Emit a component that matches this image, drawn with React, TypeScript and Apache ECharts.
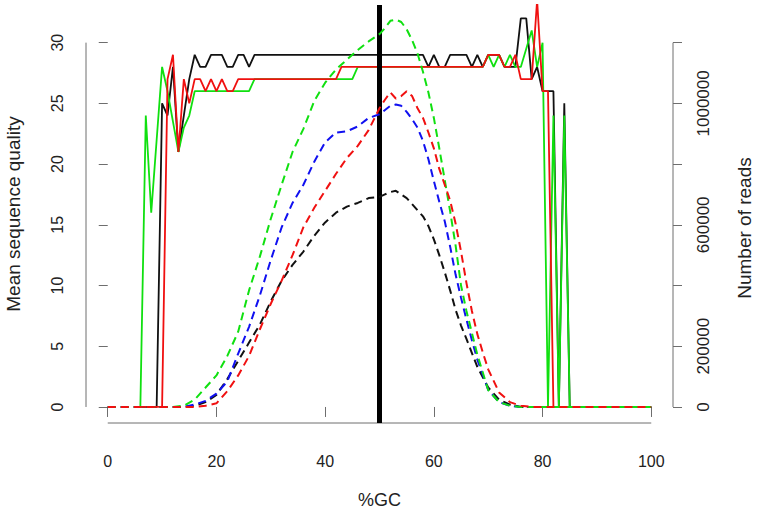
import React, { useEffect, useRef } from "react";
import * as echarts from "echarts";

// ---- data: mean sequence quality (solid lines), [%GC, quality] ----
const qualityBlack: [number, number][] = [
  [5, 0], [9, 0], [10, 25], [11, 24], [12, 28], [13, 21], [14, 24], [15, 27], [16, 29], [17, 28],
  [18, 28], [19, 29], [21, 29], [22, 28], [23, 28], [24, 29], [25, 29], [26, 28], [27, 29], [58, 29],
  [59, 28], [60, 29], [61, 28], [62, 28], [63, 29], [66, 29], [67, 28], [68, 29], [69, 28], [70, 29],
  [72, 29], [73, 28], [75, 28], [76, 32], [77, 32], [78, 27], [79, 28], [80, 26], [82, 26], [83, 0],
  [84, 25], [85, 0], [86, 0],
];
const qualityRed: [number, number][] = [
  [5, 0], [10, 0], [11, 27], [12, 29], [13, 21], [14, 27], [15, 25], [16, 27], [17, 27], [18, 26],
  [19, 27], [20, 26], [21, 27], [22, 26], [23, 26], [24, 27], [42, 27], [43, 28], [69, 28], [70, 29],
  [72, 29], [73, 28], [74, 28], [75, 29], [76, 27], [78, 27], [79, 33.5], [80, 26], [81, 26], [82, 0],
  [86, 0],
];
const qualityGreen: [number, number][] = [
  [5, 0], [6, 0], [7, 24], [8, 16], [9, 22], [10, 28], [11, 26], [12, 23.5], [13, 21], [14, 23],
  [15, 24], [16, 26], [26, 26], [27, 27], [45, 27], [46, 28], [69, 28], [70, 29], [71, 28], [72, 29],
  [73, 28], [74, 29], [75, 28], [76, 28], [77, 29.5], [78, 31], [79, 28], [80, 30], [81, 0], [82, 24],
  [83, 0], [84, 24], [85, 0], [86, 0],
];

// ---- data: number of reads (dashed lines), [%GC, reads] ----
const readsBlack: [number, number][] = [
  [0, 0], [14, 0], [16, 4000], [18, 16000], [20, 40000], [22, 92000], [24, 152000], [26, 212000],
  [28, 272000], [30, 348000], [32, 416000], [34, 468000], [36, 512000], [38, 564000], [40, 608000],
  [42, 640000], [44, 660000], [46, 672000], [48, 688000], [50, 692000], [51, 700000], [52, 708000],
  [53, 712000], [54, 700000], [55, 688000], [56, 668000], [57, 648000], [58, 628000], [59, 596000],
  [60, 552000], [61, 500000], [62, 444000], [63, 384000], [64, 320000], [65, 268000], [66, 224000],
  [68, 132000], [70, 64000], [72, 24000], [74, 8000], [76, 0], [100, 0],
];
const readsBlue: [number, number][] = [
  [0, 0], [14, 0], [16, 8000], [18, 20000], [20, 44000], [22, 84000], [24, 176000], [26, 264000],
  [28, 368000], [30, 484000], [32, 592000], [34, 672000], [36, 732000], [38, 808000], [40, 872000],
  [42, 904000], [44, 908000], [46, 924000], [48, 952000], [50, 964000], [52, 992000], [53, 996000],
  [54, 992000], [55, 972000], [56, 948000], [57, 920000], [58, 876000], [59, 816000], [60, 744000],
  [61, 676000], [62, 612000], [63, 528000], [64, 436000], [65, 360000], [66, 288000], [67, 220000],
  [68, 156000], [70, 56000], [72, 16000], [74, 4000], [76, 0], [100, 0],
];
const readsGreen: [number, number][] = [
  [0, 0], [12, 0], [14, 4000], [16, 24000], [18, 64000], [20, 104000], [22, 168000], [24, 248000],
  [26, 384000], [28, 496000], [30, 620000], [32, 732000], [34, 840000], [36, 916000], [38, 1008000],
  [40, 1068000], [42, 1112000], [44, 1144000], [46, 1176000], [48, 1204000], [50, 1228000],
  [51, 1248000], [52, 1272000], [53, 1276000], [54, 1268000], [55, 1244000], [56, 1208000],
  [57, 1164000], [58, 1104000], [59, 1036000], [60, 952000], [61, 852000], [62, 748000], [63, 644000],
  [64, 532000], [65, 400000], [66, 316000], [68, 172000], [70, 56000], [72, 16000], [74, 4000],
  [76, 0], [100, 0],
];
const readsRed: [number, number][] = [
  [0, 0], [16, 0], [18, 4000], [20, 12000], [22, 52000], [24, 104000], [26, 168000], [28, 256000],
  [30, 340000], [32, 416000], [34, 500000], [36, 592000], [38, 656000], [40, 712000], [42, 768000],
  [44, 820000], [46, 860000], [48, 912000], [49, 948000], [50, 984000], [51, 1012000], [52, 1036000],
  [53, 1016000], [54, 1024000], [55, 1040000], [56, 1024000], [57, 984000], [58, 952000],
  [59, 904000], [60, 852000], [61, 784000], [62, 732000], [63, 680000], [64, 604000], [65, 512000],
  [66, 408000], [67, 316000], [68, 240000], [69, 180000], [70, 124000], [72, 48000], [74, 16000],
  [76, 4000], [78, 0], [100, 0],
];

// ---- axes ----
const xTicks = [0, 20, 40, 60, 80, 100];
const qualityTicks = [0, 5, 10, 15, 20, 25, 30];
const readsTicks = [0, 200000, 400000, 600000, 800000, 1000000, 1200000];
const readsLabels = [0, 200000, 600000, 1000000];
const referenceGC = 50;

const X_MIN = -4;
const X_MAX = 104;
const Q_MIN = -1.32;
const Q_MAX = 33.1;
const READS_PER_Q = 40000;

const FONT = "Liberation Sans, Arial, Helvetica, sans-serif";
const AXIS_COLOR = "#6e6e6e";
const TEXT_COLOR = "#222";

export default function App() {
  const ref = useRef<HTMLDivElement>(null);
  useEffect(() => {
    const chart = echarts.init(ref.current!, null, { renderer: "svg" });
    const solid = (data: [number, number][], color: string, z: number) => ({
      type: "line",
      data,
      xAxisIndex: 0,
      yAxisIndex: 0,
      symbol: "none",
      z,
      lineStyle: { color, width: 1.8 },
      silent: true,
    });
    const dashed = (data: [number, number][], color: string, z: number) => ({
      type: "line",
      data,
      xAxisIndex: 0,
      yAxisIndex: 1,
      symbol: "none",
      z,
      lineStyle: { color, width: 2, type: [8, 5] },
      silent: true,
    });
    const axisLineSeries = (data: [number, number][], yIndex: number) => ({
      type: "line",
      data,
      xAxisIndex: 0,
      yAxisIndex: yIndex,
      symbol: "none",
      clip: false,
      z: 1,
      lineStyle: { color: AXIS_COLOR, width: 1 },
      silent: true,
    });
    chart.setOption({
      animation: false,
      backgroundColor: "#ffffff",
      grid: { left: 86, right: 86, top: 5, bottom: 88, containLabel: false, outerBoundsMode: "none" },
      xAxis: {
        type: "value",
        min: X_MIN,
        max: X_MAX,
        axisLine: { show: false },
        splitLine: { show: false },
        axisTick: { show: true, length: 10, customValues: xTicks, lineStyle: { color: AXIS_COLOR } },
        axisLabel: { customValues: xTicks, margin: 30, fontSize: 16, color: TEXT_COLOR, fontFamily: FONT },
        name: "%GC",
        nameLocation: "middle",
        nameGap: 68,
        nameTextStyle: { fontSize: 18, color: TEXT_COLOR, fontFamily: FONT },
      },
      yAxis: [
        {
          type: "value",
          position: "left",
          min: Q_MIN,
          max: Q_MAX,
          axisLine: { show: false },
          splitLine: { show: false },
          axisTick: { show: true, length: 9, customValues: qualityTicks, lineStyle: { color: AXIS_COLOR } },
          axisLabel: {
            customValues: qualityTicks,
            rotate: 90,
            margin: 21,
            fontSize: 16,
            color: TEXT_COLOR,
            fontFamily: FONT,
            formatter: (v: number) => String(v),
          },
          name: "Mean sequence quality",
          nameLocation: "middle",
          nameGap: 63,
          nameTextStyle: { fontSize: 19, color: TEXT_COLOR, fontFamily: FONT },
        },
        {
          type: "value",
          position: "right",
          min: Q_MIN * READS_PER_Q,
          max: Q_MAX * READS_PER_Q,
          axisLine: { show: false },
          splitLine: { show: false },
          axisTick: { show: true, length: 9, customValues: readsTicks, lineStyle: { color: AXIS_COLOR } },
          axisLabel: {
            customValues: readsLabels,
            rotate: 90,
            margin: 22,
            fontSize: 17,
            color: TEXT_COLOR,
            fontFamily: FONT,
            formatter: (v: number) => String(v),
          },
          name: "Number of reads",
          nameLocation: "middle",
          nameGap: 62,
          nameTextStyle: { fontSize: 19, color: TEXT_COLOR, fontFamily: FONT, padding: [0, 28, 0, 0] },
        },
      ],
      series: [
        axisLineSeries([[xTicks[0], Q_MIN], [xTicks[xTicks.length - 1], Q_MIN]], 0),
        axisLineSeries([[X_MIN, qualityTicks[0]], [X_MIN, qualityTicks[qualityTicks.length - 1]]], 0),
        axisLineSeries([[X_MAX, readsTicks[0]], [X_MAX, readsTicks[readsTicks.length - 1]]], 1),
        solid(qualityBlack, "#111111", 2),
        solid(qualityGreen, "#10e010", 3),
        solid(qualityRed, "#f01010", 4),
        dashed(readsBlack, "#111111", 5),
        dashed(readsBlue, "#1010f0", 6),
        dashed(readsGreen, "#10e010", 7),
        dashed(readsRed, "#f01010", 8),
        {
          type: "line",
          data: [],
          xAxisIndex: 0,
          yAxisIndex: 0,
          z: 10,
          silent: true,
          markLine: {
            silent: true,
            symbol: ["none", "none"],
            label: { show: false },
            lineStyle: { color: "#000000", width: 5, type: "solid" },
            data: [{ xAxis: referenceGC }],
          },
        },
      ],
    });
    return () => chart.dispose();
  }, []);
  return <div ref={ref} style={{ position: "absolute", left: 0, top: 0, width: 759, height: 511 }} />;
}
